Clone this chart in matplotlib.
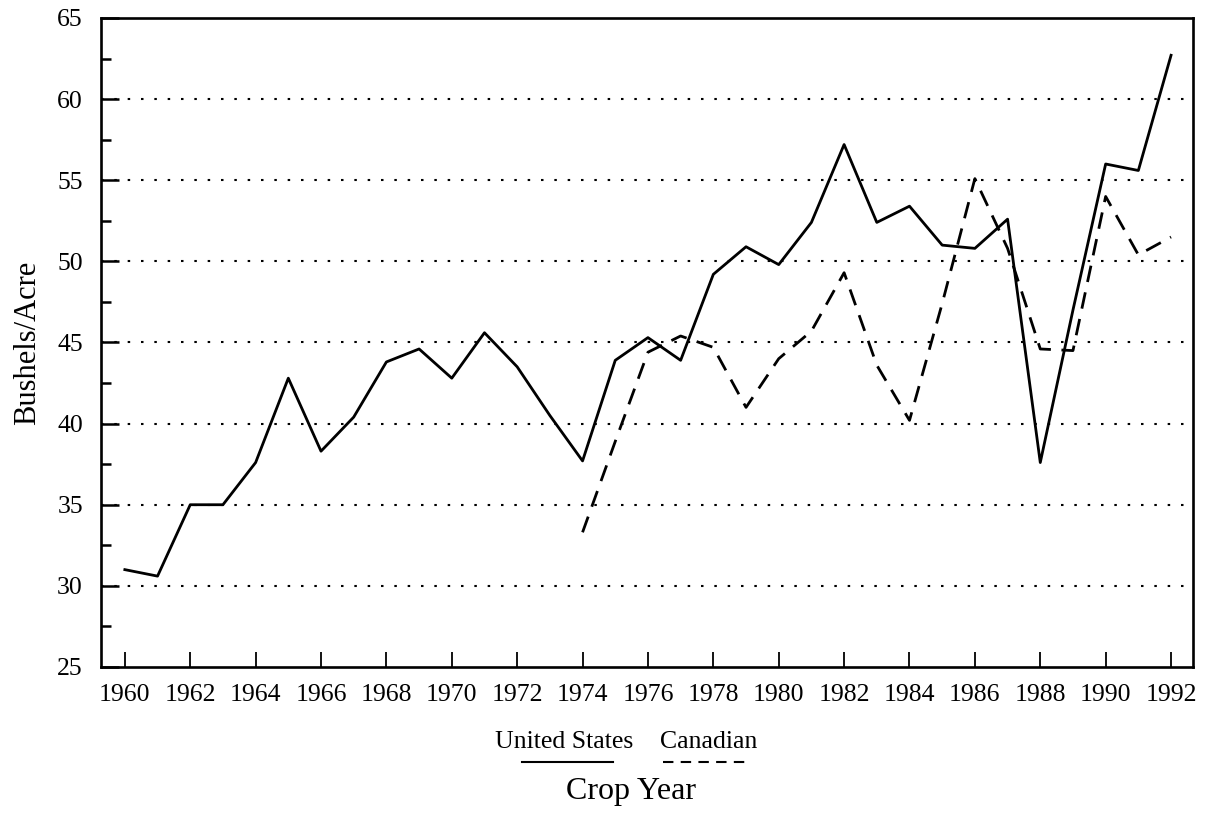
import numpy as np
import matplotlib.pyplot as plt
from matplotlib.lines import Line2D
from matplotlib.ticker import MultipleLocator

# 作物年份与单产 (bushels/acre)
years = np.arange(1960, 1993)
us_yield = [31.0, 30.6, 35.0, 35.0, 37.6, 42.8, 38.3, 40.4, 43.8, 44.6,
            42.8, 45.6, 43.5, 40.5, 37.7, 43.9, 45.3, 43.9, 49.2, 50.9,
            49.8, 52.4, 57.2, 52.4, 53.4, 51.0, 50.8, 52.6, 37.6, 47.0,
            56.0, 55.6, 62.7]
ca_years = np.arange(1974, 1993)
ca_yield = [33.3, 38.9, 44.4, 45.4, 44.7, 41.0, 44.0, 45.7, 49.3, 43.6,
            40.2, 47.4, 55.1, 50.8, 44.6, 44.5, 54.0, 50.4, 51.5]

plt.rcParams['font.family'] = ['Liberation Serif', 'DejaVu Serif']

fig = plt.figure(figsize=(12.05, 8.13), dpi=100)
ax = fig.add_axes([0.0838, 0.1796, 0.9062, 0.7983])

ax.plot(years, us_yield, color='black', lw=2.0)
ax.plot(ca_years, ca_yield, color='black', lw=2.0, dashes=(6, 3.8))

ax.set_xlim(1959.27, 1992.67)
ax.set_ylim(25, 65)
ax.set_xticks(np.arange(1960, 1993, 2))
ax.yaxis.set_major_locator(MultipleLocator(5))
ax.yaxis.set_minor_locator(MultipleLocator(2.5))

ax.tick_params(axis='x', direction='in', length=11, width=1.3, labelsize=18.5, pad=12)
ax.tick_params(axis='y', which='major', direction='in', length=13, width=1.8,
               labelsize=18.5, pad=13)
ax.tick_params(axis='y', which='minor', direction='in', length=7, width=1.8)
ax.tick_params(top=False, right=False)

for s in ax.spines.values():
    s.set_linewidth(1.9)

for v in range(30, 65, 5):
    ax.axhline(v, color='black', lw=1.5, dashes=(1.2, 5.2), zorder=0)

ax.set_ylabel('Bushels/Acre', fontsize=22, labelpad=11)

# 图例：文字在上，线型在下
fig.text(0.468, 0.087, 'United States', fontsize=18.5, ha='center', va='center')
fig.text(0.588, 0.087, 'Canadian', fontsize=18.5, ha='center', va='center')
fig.add_artist(Line2D([0.433, 0.509], [0.063, 0.063], color='black', lw=1.5))
fig.add_artist(Line2D([0.550, 0.621], [0.063, 0.063], color='black', lw=1.5,
                      dashes=(5, 3.5)))
fig.text(0.524, 0.026, 'Crop Year', fontsize=23, ha='center', va='center')

plt.savefig('out.png', dpi=100)
